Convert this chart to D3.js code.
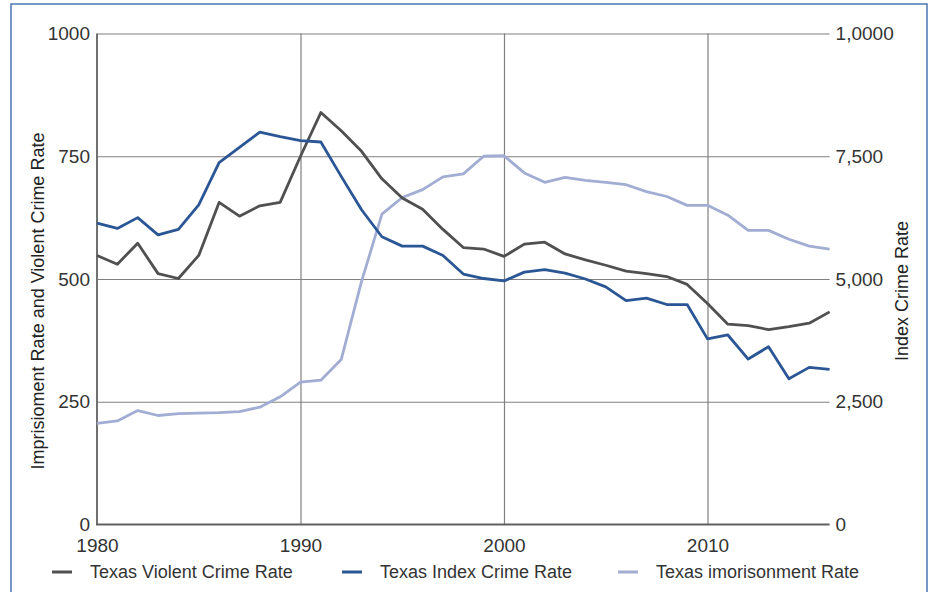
<!DOCTYPE html>
<html>
<head>
<meta charset="utf-8">
<title>Texas crime and imprisonment</title>
<script src="https://cdnjs.cloudflare.com/ajax/libs/d3/7.8.5/d3.min.js"></script>
<style>
body { margin: 0; background: #fff; font-family: "Liberation Sans", Arial, sans-serif; }
.tick text { fill: #333; font-size: 19px; font-family: "Liberation Sans", Arial, sans-serif; }
.grid line { stroke: #808080; stroke-width: 1.2; }
.grid path, .noline path { display: none; }
.noline line { display: none; }
.series { fill: none; stroke-width: 2.8; stroke-linejoin: round; }
</style>
</head>
<body>
<svg width="932" height="592"></svg>
<script>
var years = d3.range(1980, 2017);

// per 100,000
var violent = [548, 530, 573, 511, 501, 548, 656, 628, 649, 656,
               750, 839, 802, 760, 704, 665, 642, 601, 564, 561,
               546, 571, 575, 551, 539, 528, 516, 511, 505, 489,
               450, 408, 405, 397, 403, 410, 433];
var imprisonment = [206, 211, 232, 222, 226, 227, 228, 230, 239, 260,
                    290, 294, 336, 495, 632, 666, 682, 708, 714, 750,
                    751, 716, 697, 707, 701, 697, 692, 678, 668, 650,
                    650, 630, 599, 599, 581, 567, 561];
// right axis
var indexCrime = [6140, 6030, 6250, 5900, 6010, 6510, 7370, 7680, 7990, 7900,
                  7820, 7790, 7090, 6410, 5860, 5670, 5670, 5480, 5100, 5010,
                  4960, 5140, 5190, 5120, 5000, 4840, 4560, 4610, 4480, 4480,
                  3780, 3860, 3370, 3620, 2970, 3200, 3160];

var leftTicks = [0, 250, 500, 750, 1000];
var leftLabels = ["0", "250", "500", "750", "1000"];
var rightTicks = [0, 2500, 5000, 7500, 10000];
var rightLabels = ["0", "2,500", "5,000", "7,500", "1,0000"];
var xTicks = [1980, 1990, 2000, 2010];

var names = ["Texas Violent Crime Rate", "Texas Index Crime Rate", "Texas imorisonment Rate"];
var colors = ["#505050", "#2b5695", "#a2add3"];

var svg = d3.select("svg");

// outer frame
svg.append("rect")
  .attr("x", 11).attr("y", 4)
  .attr("width", 916).attr("height", 600)
  .attr("fill", "none")
  .attr("stroke", "#4a77b2")
  .attr("stroke-width", 1.5);

var pLeft = 97, pRight = 829.6, pTop = 33.5, pBottom = 524.5;

var x = d3.scaleLinear().domain([1980, 2016]).range([pLeft, pRight]);
var yL = d3.scaleLinear().domain([0, 1000]).range([pBottom, pTop]);
var yR = d3.scaleLinear().domain([0, 10000]).range([pBottom, pTop]);

// horizontal grid
svg.append("g")
  .attr("class", "grid")
  .attr("transform", "translate(" + pLeft + ",0)")
  .call(d3.axisLeft(yL).tickValues(leftTicks.slice(1)).tickSize(-(pRight - pLeft)).tickFormat(""));

// vertical grid
svg.append("g")
  .attr("class", "grid")
  .attr("transform", "translate(0," + pBottom + ")")
  .call(d3.axisBottom(x).tickValues(xTicks.slice(1)).tickSize(-(pBottom - pTop)).tickFormat(""));

// axis lines
svg.append("line")
  .attr("x1", pLeft).attr("x2", pLeft).attr("y1", pTop).attr("y2", pBottom)
  .attr("stroke", "#707070").attr("stroke-width", 2);
svg.append("line")
  .attr("x1", pLeft - 1).attr("x2", pRight).attr("y1", pBottom).attr("y2", pBottom)
  .attr("stroke", "#606060").attr("stroke-width", 2);

// tick labels
svg.append("g")
  .attr("class", "noline")
  .attr("transform", "translate(" + pLeft + ",0)")
  .call(d3.axisLeft(yL).tickValues(leftTicks).tickSize(0).tickPadding(7)
    .tickFormat(function(d, i) { return leftLabels[i]; }));

svg.append("g")
  .attr("class", "noline")
  .attr("transform", "translate(" + pRight + ",0)")
  .call(d3.axisRight(yR).tickValues(rightTicks).tickSize(0).tickPadding(6)
    .tickFormat(function(d, i) { return rightLabels[i]; }));

svg.append("g")
  .attr("class", "noline")
  .attr("transform", "translate(0," + pBottom + ")")
  .call(d3.axisBottom(x).tickValues(xTicks).tickSize(0).tickPadding(14)
    .tickFormat(d3.format("d")));

// lines
var lineL = d3.line().x(function(d, i) { return x(years[i]); }).y(function(d) { return yL(d); });
var lineR = d3.line().x(function(d, i) { return x(years[i]); }).y(function(d) { return yR(d); });

svg.append("path").attr("class", "series").attr("d", lineL(imprisonment)).attr("stroke", colors[2]);
svg.append("path").attr("class", "series").attr("d", lineL(violent)).attr("stroke", colors[0]);
svg.append("path").attr("class", "series").attr("d", lineR(indexCrime)).attr("stroke", colors[1]);

// axis titles
svg.append("text")
  .attr("transform", "translate(44,301) rotate(-90)")
  .attr("text-anchor", "middle")
  .style("font-size", "18px")
  .attr("fill", "#222")
  .text("Imprisioment Rate and Violent Crime Rate");

svg.append("text")
  .attr("transform", "translate(908,291) rotate(-90)")
  .attr("text-anchor", "middle")
  .style("font-size", "18px")
  .attr("fill", "#222")
  .text("Index Crime Rate");

// legend
var legendX = [52, 342, 618];
var lg = svg.append("g");
names.forEach(function(n, i) {
  lg.append("line")
    .attr("x1", legendX[i]).attr("x2", legendX[i] + 20)
    .attr("y1", 572).attr("y2", 572)
    .attr("stroke", colors[i]).attr("stroke-width", 3);
  lg.append("text")
    .attr("x", legendX[i] + 38)
    .attr("y", 578)
    .style("font-size", "18px")
    .attr("fill", "#333")
    .text(n);
});
</script>
</body>
</html>
